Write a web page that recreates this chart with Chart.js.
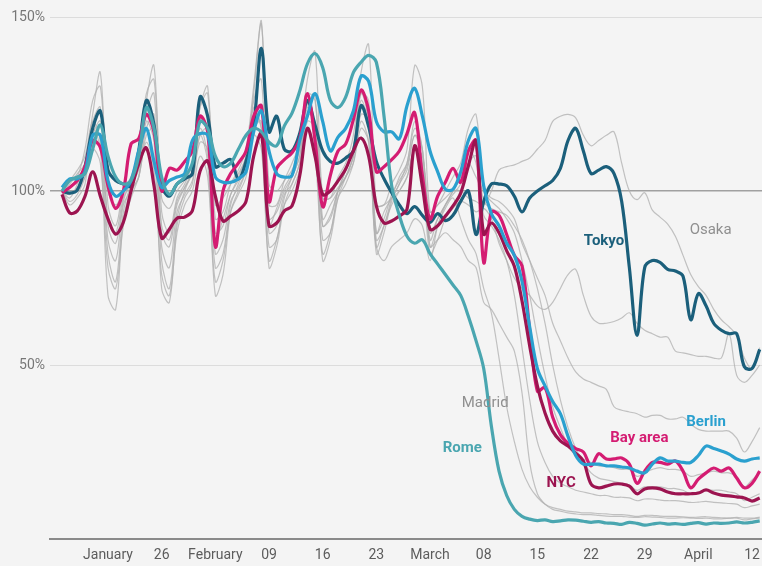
<!DOCTYPE html>
<html>
<head>
<meta charset="utf-8">
<script src="https://cdn.jsdelivr.net/npm/chart.js@4"></script>
<style>
  html, body { margin: 0; padding: 0; background: #f4f4f4; }
  .chart-container { position: relative; width: 762px; height: 566px; }
</style>
</head>
<body>
<div class="chart-container"><canvas id="myChart"></canvas></div>
<script>
// days counted from Monday 13 January 2020 (day 0) to 13 April (day 91)
const tickDays = [6, 13, 20, 27, 34, 41, 48, 55, 62, 69, 76, 83, 90];
const tickLabels = ['January', '26', 'February', '09', '16', '23', 'March', '08', '15', '22', '29', 'April', '12'];

// highlighted cities, % of normal
const tokyo = [100, 99.4, 100.3, 107, 118, 123, 106, 103, 102, 101.5,
  111.5, 126, 119, 101.5, 98.5, 102, 103.5, 105, 127, 121.5,
  107, 108, 109, 103.5, 108.5, 118.5, 141, 117, 121.5, 112,
  111.5, 116.5, 126, 119, 111.5, 108.5, 108, 109.5, 111.5, 124.5,
  118.5, 108.5, 103.5, 99.5, 96, 93.5, 95.5, 93, 91, 93.5,
  91.5, 93, 97, 100, 87.5, 97, 102, 102, 101.5, 98.5,
  94, 98, 100, 101.5, 103, 106.5, 114.5, 118, 111.5, 105,
  106, 107, 105, 97, 78, 58.5, 78, 80, 79.5, 77.5,
  77, 75.5, 63, 70.5, 67, 62, 60, 59, 59, 49.5,
  49, 54.5];
const rome = [100, 103, 104, 105, 112, 119, 110, 104, 102, 103,
  110, 124, 118, 104, 99, 102, 104, 108, 120, 118,
  110, 107, 108, 112, 116, 118, 117, 114, 113, 118.7,
  122.4, 128.7, 136.5, 139.5, 135.5, 126, 124, 127, 134, 137,
  139, 137, 121.5, 101.5, 93, 87, 85, 86, 82, 79,
  76, 73, 70, 64, 57, 49, 32.5, 19.5, 12.5, 8.5,
  6.5, 5.7, 5.3, 5.5, 5, 5.2, 5.5, 5.4, 5.1, 4.8,
  5, 4.6, 4.5, 4.2, 4.8, 4.5, 4, 4.3, 4.6, 4.3,
  4.4, 4.2, 4.5, 4.7, 4.3, 4.6, 4.5, 4.6, 4.9, 4.6,
  4.8, 5.2];
const berlin = [101, 103.5, 103.5, 105.5, 116, 116, 103, 98.5, 100, 103,
  111.5, 118, 108.5, 101, 103, 104, 105, 114.5, 116.5, 116,
  104, 102.5, 102.5, 103.5, 105.5, 117, 123, 111.5, 105, 104,
  104.5, 114.5, 121.5, 128, 120, 111.5, 115.5, 118, 123, 133,
  131.5, 120, 117, 117, 115, 124.5, 129.5, 121.5, 111.5, 105.5,
  100.5, 100.5, 105.5, 114.5, 118, 101.5, 93.5, 90, 85, 81.5,
  74, 61, 49, 44, 39.5, 36, 29.5, 24, 21.5, 21.5,
  21.5, 21, 21, 20.7, 20.4, 19.5, 19, 21.5, 23.3, 22.4,
  22.4, 22, 22, 24, 26.7, 26, 25.3, 24.4, 23, 22.4,
  23, 23.3];
const bayArea = [99.5, 101, 103, 107, 114.5, 112.5, 101.5, 95, 100, 113.5,
  115, 122, 117, 100, 106.5, 106, 108.5, 111.5, 121.5, 117,
  84, 100, 105, 108, 111.5, 121.5, 124.5, 97, 106.5, 109,
  111, 115, 128, 114.5, 95.5, 104.5, 111.5, 113.5, 120.5, 129,
  123, 105.5, 107, 109, 111.5, 116.5, 122.5, 104.5, 92, 98.5,
  102.5, 106.5, 102.5, 111.5, 114.5, 79.5, 94, 93, 87.5, 81.5,
  78.5, 60, 42.5, 43.5, 35, 30, 27.5, 26, 25, 21,
  24.5, 23, 23, 23.3, 21.5, 16, 19.5, 22, 22, 21.5,
  22.4, 19.5, 14.7, 17.2, 19, 20.4, 19.5, 20.4, 17.5, 14.7,
  16, 19.5];
const nyc = [99, 93.7, 94.3, 98.5, 105.5, 98.5, 92, 87.6, 91, 100,
  107.8, 112.4, 101.5, 86.5, 89, 92.2, 92.5, 94.3, 105.7, 108.6,
  98.5, 91.4, 92.8, 94.3, 97, 110, 116.4, 90, 90.8, 94.3,
  95.7, 104.3, 118, 110, 99, 100, 102.9, 106.3, 111.5, 115.2,
  110, 95.7, 90.8, 91.4, 92.8, 94.8, 113, 101.4, 89, 90,
  92.8, 95.7, 99.4, 107.2, 114.4, 87.6, 90.8, 88, 82.8, 78.4,
  68.4, 55.5, 44, 36.2, 31, 28.2, 26.7, 24.7, 22.4, 15.8,
  14.7, 15.2, 15.8, 15.8, 15.2, 13, 14.4, 14.7, 14.4, 13.5,
  13, 13, 13, 13.2, 14.1, 13.2, 12.6, 12.4, 12.1, 11.8,
  10.9, 11.8];

// the other cities, drawn in grey
const madrid = [100, 98, 102, 108, 120, 124, 90, 85, 97, 103, 108, 122, 128, 88,
  84, 96, 101, 106, 121, 118, 86, 92, 99, 104, 110, 126, 132, 90,
  95, 101, 105, 112, 125, 127, 92, 96, 100, 106, 113, 128, 126, 88,
  94, 98, 102, 108, 118, 112, 84, 86, 88, 86, 84, 80, 78,
  68, 66, 62, 58, 54, 42, 22, 13, 10, 8.5, 8, 7.5, 7.2, 7, 7, 6.8, 6.6, 6.5, 6.5, 6.3,
  6.2, 6.4, 6.3, 6.2, 6, 6, 6.1, 6, 5.9, 6, 5.8, 5.8, 6, 6.2, 6, 6, 6.3];
const osaka = [100, 101, 104, 112, 126, 130, 100, 96, 100, 104, 112, 128, 132, 98,
  95, 100, 103, 108, 124, 128, 96, 98, 102, 105, 110, 128, 148, 102,
  100, 103, 106, 112, 128, 126, 98, 98, 101, 104, 110, 124, 122, 96,
  96, 98, 100, 104, 112, 110, 94, 96, 98, 100, 100, 98, 97,
  96, 100, 106, 107, 107.5, 108.5, 109.5, 112, 114.5, 120, 121.5, 122, 121, 116, 113, 114.5, 116, 117, 108, 100,
  97.5, 99.5, 94.5, 92.5, 90.5, 87, 81.5, 76, 72.5, 70, 66, 63, 61, 58.5, 52, 49, 55];
const grey3 = [100, 97, 99, 104, 112, 108, 78, 72, 90, 98, 104, 114, 106, 76,
  70, 88, 96, 100, 110, 104, 74, 80, 94, 99, 104, 116, 112, 80,
  86, 96, 100, 106, 118, 110, 82, 88, 98, 102, 108, 120, 114, 84,
  90, 96, 100, 104, 112, 104, 82, 86, 92, 95, 97, 96, 94,
  95, 92, 85, 80, 75, 72, 70, 67, 66, 68, 72, 76, 77.5, 70, 64, 62, 62, 62.5, 63.5, 65,
  62, 60, 59, 58, 58, 54, 53.5, 53, 52.5, 52.5, 52, 52, 59, 47, 45, 47, 50];
const grey4 = [100, 96, 98, 102, 118, 112, 70, 66, 92, 100, 104, 120, 114, 72,
  68, 90, 98, 102, 116, 108, 70, 76, 94, 100, 106, 122, 118, 78,
  84, 96, 102, 108, 124, 116, 80, 86, 98, 104, 110, 126, 118, 82,
  88, 97, 102, 106, 116, 108, 84, 90, 96, 100, 104, 108, 104,
  100, 98, 97, 95, 92, 85, 80, 75, 70, 62, 57, 52, 48, 46, 45, 44, 43, 38, 37, 36.5,
  36, 35, 35.5, 35.5, 34.5, 34.5, 35, 33, 31.5, 31, 31, 31, 31, 29, 25, 28, 32];
const grey5 = [100, 102, 105, 108, 122, 134, 96, 90, 100, 104, 110, 126, 136, 94,
  88, 98, 102, 108, 124, 130, 92, 94, 102, 106, 112, 130, 149, 96,
  96, 103, 108, 114, 132, 140, 98, 98, 104, 108, 116, 134, 142, 96,
  96, 102, 106, 112, 136, 130, 94, 96, 100, 104, 108, 118, 122,
  100, 97, 95, 92, 88, 80, 70, 58, 47, 38, 32, 27, 24, 23, 22, 21, 21, 20.5, 20, 20,
  18, 19, 20, 20.5, 20, 20, 19.5, 18, 18.5, 19, 19.5, 19, 19, 18, 15, 17, 19];
const grey6 = [100, 99, 101, 104, 114, 116, 86, 80, 96, 100, 104, 116, 118, 84,
  78, 94, 99, 103, 114, 112, 82, 86, 97, 101, 106, 118, 120, 88,
  90, 99, 102, 108, 120, 118, 90, 92, 100, 104, 110, 122, 120, 88,
  92, 99, 103, 107, 116, 112, 88, 92, 96, 99, 102, 108, 110,
  97, 95, 94, 93, 90, 86, 80, 72, 62, 50, 40, 32, 26, 22, 19, 17.5, 17, 16.5, 16, 15.5,
  14, 15, 15, 15, 14.5, 14.5, 14, 13, 13.5, 14, 14, 14, 13.5, 13, 11, 12, 13];
const grey7 = [100, 103, 106, 110, 120, 114, 82, 74, 94, 102, 108, 122, 116, 80,
  72, 92, 100, 106, 118, 110, 78, 82, 96, 102, 108, 124, 118, 84,
  86, 98, 104, 110, 126, 116, 86, 88, 100, 106, 112, 128, 120, 86,
  90, 98, 104, 108, 120, 112, 86, 92, 96, 100, 104, 112, 108,
  93, 90, 86, 80, 70, 55, 40, 28, 22, 18, 16, 15, 14, 13.5, 13, 12.5, 12.5, 12, 12, 11.8,
  11, 11.5, 11.5, 11.2, 11, 11, 10.8, 10.5, 10.6, 10.8, 10.5, 10.4, 10.2, 10, 9, 9.5, 10];
const grey8 = [100, 101, 103, 106, 116, 120, 92, 88, 98, 102, 106, 118, 122, 90,
  86, 97, 101, 105, 116, 118, 88, 90, 99, 103, 108, 120, 124, 92,
  94, 100, 104, 110, 122, 120, 90, 93, 100, 104, 108, 118, 114, 84,
  80, 84, 86, 88, 92, 90, 80, 90, 95, 98, 92, 86, 82,
  72, 65, 52, 38, 28, 20, 15, 12, 10, 9, 8.5, 8, 7.8, 7.5, 7.5, 7.3, 7.2, 7, 7, 6.8,
  6.5, 6.8, 6.8, 6.6, 6.5, 6.5, 6.4, 6.2, 6.3, 6.4, 6.2, 6.1, 6, 6, 5.5, 5.8, 6];

// name labels: [text, day, value, colour, bold]
const cityLabels = [
  ['Tokyo', 70.7, 85.6, '#1b5f7b', true],
  ['Osaka', 84.6, 88.8, '#8f8f8f', false],
  ['Madrid', 55.2, 39, '#8f8f8f', false],
  ['Rome', 52.2, 26, '#4aa6b0', true],
  ['Berlin', 84, 33.6, '#2aa0cf', true],
  ['Bay area', 75.3, 29, '#d41c72', true],
  ['NYC', 65.1, 16, '#9c1450', true]
];

const toPoints = (values) => values.map((v, i) => ({ x: i, y: v }));

const grey = (values) => ({
  data: toPoints(values),
  borderColor: 'rgba(175,175,175,0.75)',
  borderWidth: 1.2,
  pointRadius: 0,
  tension: 0.35,
  order: 2
});
const main = (values, color) => ({
  data: toPoints(values),
  borderColor: color,
  borderWidth: 3.2,
  pointRadius: 0,
  tension: 0.35,
  order: 1
});

const background = {
  id: 'background',
  beforeDraw(chart) {
    const ctx = chart.ctx;
    ctx.save();
    ctx.fillStyle = '#f4f4f4';
    ctx.fillRect(0, 0, chart.width, chart.height);
    ctx.restore();
  }
};

const names = {
  id: 'names',
  afterDatasetsDraw(chart) {
    const ctx = chart.ctx;
    const xs = chart.scales.x, ys = chart.scales.y;
    ctx.save();
    ctx.textAlign = 'center';
    ctx.textBaseline = 'middle';
    cityLabels.forEach(([text, d, v, color, bold]) => {
      ctx.font = (bold ? 'bold ' : '') + '15px Roboto';
      ctx.fillStyle = color;
      ctx.fillText(text, xs.getPixelForValue(d), ys.getPixelForValue(v));
    });
    ctx.restore();
  }
};

var ctx = document.getElementById('myChart');
var myLineChart = new Chart(ctx, {
  type: 'line',
  data: {
    datasets: [
      grey(madrid), grey(osaka), grey(grey3), grey(grey4),
      grey(grey5), grey(grey6), grey(grey7), grey(grey8),
      main(rome, '#4aa6b0'),
      main(berlin, '#2aa0cf'),
      main(nyc, '#9c1450'),
      main(bayArea, '#d41c72'),
      main(tokyo, '#1b5f7b')
    ]
  },
  options: {
    responsive: true,
    maintainAspectRatio: false,
    animation: false,
    layout: { padding: { top: 17, right: 0, bottom: 0, left: 0 } },
    plugins: { legend: { display: false }, tooltip: { enabled: false } },
    scales: {
      x: {
        type: 'linear',
        min: -1.565,
        max: 91.3,
        afterBuildTicks: (scale) => { scale.ticks = tickDays.map(v => ({ value: v })); },
        afterFit: (scale) => { scale.height = 27; },
        grid: { display: false },
        border: { display: true, color: '#8a8a8a', width: 2 },
        ticks: {
          autoSkip: false,
          maxRotation: 0,
          padding: 0,
          color: '#5c5c5c',
          font: { family: 'Roboto', size: 14 },
          callback: (value) => tickLabels[tickDays.indexOf(value)]
        }
      },
      y: {
        min: 0,
        max: 150,
        afterFit: (scale) => { scale.width = 50; },
        border: { display: false },
        grid: {
          drawTicks: false,
          color: (c) => c.tick.value === 100 ? '#a0a0a0' : (c.tick.value === 0 ? 'rgba(0,0,0,0)' : '#dcdcdc'),
          lineWidth: (c) => c.tick.value === 100 ? 1.5 : 1
        },
        ticks: {
          stepSize: 50,
          padding: 5,
          color: '#777',
          font: { family: 'Roboto', size: 14 },
          callback: (value) => value === 0 ? '' : value + '%'
        }
      }
    }
  },
  plugins: [background, names]
});
</script>
</body>
</html>
